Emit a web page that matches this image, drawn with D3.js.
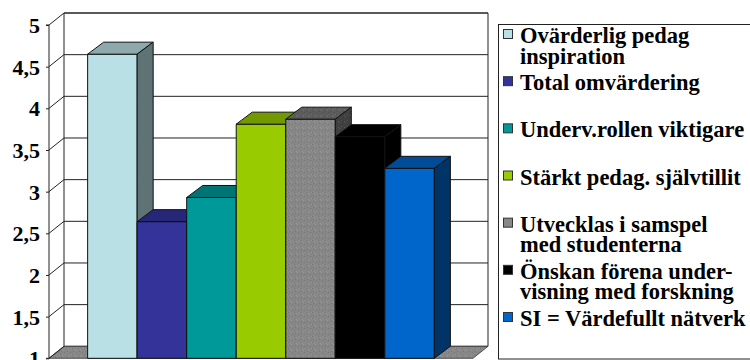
<!DOCTYPE html>
<html>
<head>
<meta charset="utf-8">
<script src="https://cdn.jsdelivr.net/npm/d3@7"></script>
</head>
<body style="margin:0;background:#fff">
<svg id="chart" width="750" height="360" style="display:block"></svg>
<script>
// Series (one bar each) and their mean scores
const seriesNames = [
  "Ovärderlig pedag inspiration",
  "Total omvärdering",
  "Underv.rollen viktigare",
  "Stärkt pedag. självtillit",
  "Utvecklas i samspel med studenterna",
  "Önskan förena undervisning med forskning",
  "SI = Värdefullt nätverk"
];
const values = [4.65, 2.64, 2.93, 3.81, 3.87, 3.66, 3.28];

// Legend text, broken over lines
const legendLines = [
  ["Ovärderlig pedag", "inspiration"],
  ["Total omvärdering"],
  ["Underv.rollen viktigare"],
  ["Stärkt pedag. självtillit"],
  ["Utvecklas i samspel", "med studenterna"],
  ["Önskan förena under-", "visning med forskning"],
  ["SI = Värdefullt nätverk"]
];

// Value axis ticks
const yTicks = [1, 1.5, 2, 2.5, 3, 3.5, 4, 4.5, 5];

// Face colours per bar: front, top, side
const frontColors = ["#B9E0E4", "#333399", "#009999", "#99CC00", "#878787", "#000000", "#0066CC"];
const topColors   = ["#8DA9AC", "#27277A", "#007474", "#739900", "#5C5C5C", "#000000", "#004C99"];
const sideColors  = ["#5F7274", "#1B1B55", "#005050", "#4D6600", "#404040", "#000000", "#003366"];

const FONT = "'Liberation Serif'";

const svg = d3.select("#chart");
const sv = d3.formatLocale({ decimal: ",", thousands: " ", grouping: [3], currency: ["", " kr"] });
const fmt = sv.format("~g");

// Plot geometry: front plane and depth offset of the 3D box
const plotLeft = 49, plotRight = 473, plotBottom = 358.3, plotTop = 25;
const wallDx = 15, wallDy = 12;
const barDx = 16, barDy = 12;

const y = d3.scaleLinear().domain([1, 5]).range([plotBottom, plotTop]);
const x = d3.scaleBand().domain(seriesNames).range([plotLeft, plotRight])
  .paddingInner(0).paddingOuter(0.78);

// Faint speckle pattern for the grey surfaces
const defs = svg.append("defs");
const speckle = [[0, 0, "#000"], [2, 1, "#fff"], [1, 3, "#000"], [3, 2, "#fff"], [4, 4, "#000"], [5, 0, "#fff"]];
function addSpeckle(id, base) {
  const p = defs.append("pattern").attr("id", id).attr("width", 6).attr("height", 6)
    .attr("patternUnits", "userSpaceOnUse");
  p.append("rect").attr("width", 6).attr("height", 6).attr("fill", base);
  speckle.forEach(([sx, sy, c]) => p.append("rect").attr("x", sx).attr("y", sy)
    .attr("width", 1).attr("height", 1).attr("fill", c).attr("opacity", 0.12));
}
addSpeckle("floorTex", "#878787");

const poly = pts => "M" + pts.map(p => p.join(",")).join("L") + "Z";

// Back wall
const g = svg.append("g");
const yMin = y(1), yMax = y(5);
g.append("path")
  .attr("d", poly([[plotLeft + wallDx, yMax - wallDy], [plotRight + wallDx, yMax - wallDy],
                   [plotRight + wallDx, yMin - wallDy], [plotLeft + wallDx, yMin - wallDy]]))
  .attr("fill", "#fff").attr("stroke", "#222").attr("stroke-width", 1);

// Floor
g.append("path")
  .attr("d", poly([[plotLeft, yMin], [plotRight, yMin], [plotRight + wallDx, yMin - wallDy], [plotLeft + wallDx, yMin - wallDy]]))
  .attr("fill", "url(#floorTex)").attr("stroke", "#333").attr("stroke-width", 0.8);

// Gridlines on back wall and side wall
yTicks.filter(t => t > 1).forEach(t => {
  g.append("line")
    .attr("x1", plotLeft + wallDx).attr("x2", plotRight + wallDx)
    .attr("y1", y(t) - wallDy).attr("y2", y(t) - wallDy)
    .attr("stroke", "#222").attr("stroke-width", 1);
});
yTicks.forEach(t => {
  g.append("line")
    .attr("x1", plotLeft).attr("y1", y(t))
    .attr("x2", plotLeft + wallDx).attr("y2", y(t) - wallDy)
    .attr("stroke", "#222").attr("stroke-width", 1);
});

// Value axis on the front edge
const axis = d3.axisLeft(y).tickValues(yTicks).tickSize(3).tickFormat(fmt);
const ax = svg.append("g").attr("transform", `translate(${plotLeft},0)`).call(axis)
  .attr("font-family", null).attr("font-size", null);
ax.select(".domain").attr("stroke", "#222").attr("d", `M-3,${y(5)}H0V${y(1)}H-3`);
ax.selectAll(".tick line").attr("stroke", "#222");
ax.selectAll(".tick text")
  .attr("x", -9).attr("dy", "0.34em")
  .attr("font-family", FONT).attr("font-weight", "bold").attr("font-size", 22)
  .style("font-family", "Liberation Serif")
  .attr("fill", "#000");

// Bars, drawn left to right so later faces overlap earlier sides
const bars = svg.append("g");
seriesNames.forEach((name, i) => {
  const x0 = x(name), x1 = x0 + x.bandwidth();
  const yt = y(values[i]), yb = y(1);
  const bg = bars.append("g");
  if (i === 4) { addSpeckle("tex4f", frontColors[i]); addSpeckle("tex4t", topColors[i]); addSpeckle("tex4s", sideColors[i]); }
  const fillF = i === 4 ? "url(#tex4f)" : frontColors[i];
  const fillT = i === 4 ? "url(#tex4t)" : topColors[i];
  const fillS = i === 4 ? "url(#tex4s)" : sideColors[i];
  // front
  bg.append("path").attr("d", poly([[x0, yt], [x1, yt], [x1, yb], [x0, yb]]))
    .attr("fill", fillF).attr("stroke", "#111").attr("stroke-width", 1);
  // top
  bg.append("path").attr("d", poly([[x0, yt], [x1, yt], [x1 + barDx, yt - barDy], [x0 + barDx, yt - barDy]]))
    .attr("fill", fillT).attr("stroke", "#111").attr("stroke-width", 1);
  // side
  bg.append("path").attr("d", poly([[x1, yt], [x1 + barDx, yt - barDy], [x1 + barDx, yb - barDy], [x1, yb]]))
    .attr("fill", fillS).attr("stroke", "#111").attr("stroke-width", 1);
});

// Legend
const lg = svg.append("g");
lg.append("rect").attr("x", 498.5).attr("y", 24.5).attr("width", 270).attr("height", 334.5)
  .attr("fill", "#fff").attr("stroke", "#222").attr("stroke-width", 1);
const itemY = d3.scaleLinear().domain([0, seriesNames.length - 1]).range([43, 326]);
legendLines.forEach((lines, i) => {
  const by = itemY(i);
  lg.append("rect").attr("x", 503.5).attr("y", by - 13.5).attr("width", 9).attr("height", 9)
    .attr("fill", frontColors[i]).attr("stroke", "#333").attr("stroke-width", 1);
  lines.forEach((ln, j) => {
    lg.append("text").attr("x", 520).attr("y", by + j * 20.5)
      .attr("font-family", FONT).attr("font-weight", "bold").attr("font-size", 22.5)
      .style("font-family", "Liberation Serif")
      .attr("fill", "#000").text(ln);
  });
});
</script>
</body>
</html>
